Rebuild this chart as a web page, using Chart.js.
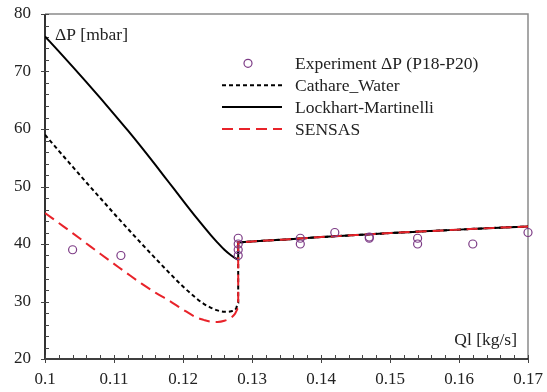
<!DOCTYPE html>
<html>
<head>
<meta charset="utf-8">
<script src="https://cdn.jsdelivr.net/npm/chart.js@4/dist/chart.umd.min.js"></script>
<style>
  html, body { margin: 0; padding: 0; background: #fff; }
  #wrap { width: 547px; height: 392px; }
</style>
</head>
<body>
<div id="wrap"><canvas id="c" width="547" height="392"></canvas></div>
<script>
// Axis ticks
const xTickValues = [0.10, 0.11, 0.12, 0.13, 0.14, 0.15, 0.16, 0.17];
const xTickLabels = ['0.1', '0.11', '0.12', '0.13', '0.14', '0.15', '0.16', '0.17'];
const yTickValues = [20, 30, 40, 50, 60, 70, 80];
const yTickLabels = ['20', '30', '40', '50', '60', '70', '80'];

// Measured pressure drop P18-P20
const expQl = [0.104, 0.111, 0.128, 0.128, 0.128, 0.128, 0.137, 0.137, 0.142, 0.147, 0.147, 0.154, 0.154, 0.162, 0.170];
const expDp = [39.0, 38.0, 41.0, 40.0, 39.0, 38.0, 41.0, 40.0, 42.0, 41.0, 41.2, 41.0, 40.0, 40.0, 42.0];

// Cathare_Water
const cathareQl = [0.100, 0.102, 0.104, 0.106, 0.108, 0.110, 0.112, 0.114, 0.116, 0.118, 0.120, 0.122, 0.123, 0.124, 0.125, 0.126, 0.127, 0.1277, 0.128,
                   0.128, 0.130, 0.135, 0.140, 0.145, 0.150, 0.155, 0.160, 0.165, 0.170];
const cathareDp = [59.0, 56.2, 53.45, 50.7, 48.0, 45.3, 42.65, 40.05, 37.5, 35.0, 32.6, 30.5, 29.6, 28.95, 28.45, 28.2, 28.3, 28.8, 29.8,
                   40.3, 40.45, 40.8, 41.2, 41.55, 41.9, 42.2, 42.5, 42.8, 43.05];

// Lockhart-Martinelli
const lockhartQl = [0.100, 0.102, 0.104, 0.106, 0.108, 0.110, 0.112, 0.114, 0.116, 0.118, 0.120, 0.122, 0.124, 0.125, 0.126, 0.127, 0.1275, 0.128,
                    0.128, 0.130, 0.135, 0.140, 0.145, 0.150, 0.155, 0.160, 0.165, 0.170];
const lockhartDp = [76.1, 73.5, 70.85, 68.15, 65.4, 62.6, 59.75, 56.8, 53.75, 50.65, 47.55, 44.5, 41.6, 40.25, 39.0, 38.0, 37.6, 37.3,
                    40.3, 40.45, 40.8, 41.2, 41.55, 41.9, 42.2, 42.5, 42.8, 43.05];

// SENSAS
const sensasQl = [0.100, 0.102, 0.104, 0.106, 0.108, 0.110, 0.112, 0.114, 0.116, 0.118, 0.120, 0.122, 0.123, 0.124, 0.125, 0.126, 0.127, 0.1275, 0.128,
                  0.128, 0.130, 0.135, 0.140, 0.145, 0.150, 0.155, 0.160, 0.165, 0.170];
const sensasDp = [45.4, 43.65, 41.9, 40.1, 38.3, 36.55, 34.8, 33.1, 31.55, 30.15, 28.6, 27.2, 26.8, 26.5, 26.45, 26.65, 27.2, 27.8, 28.8,
                  40.3, 40.45, 40.8, 41.2, 41.55, 41.9, 42.2, 42.5, 42.8, 43.05];

const toPoints = (xs, ys) => xs.map((v, i) => ({ x: v, y: ys[i] }));

const FONT = "'Liberation Serif', 'Times New Roman', serif";
const TEXT = '#222';

// Frame: black left/bottom axes, grey top/right borders, crossing major and inward minor ticks
const framePlugin = {
  id: 'frame',
  beforeDatasetsDraw(chart) {
    const { ctx, chartArea: a, scales: { x, y } } = chart;
    ctx.save();
    ctx.strokeStyle = '#8a8a8a';
    ctx.lineWidth = 1.5;
    ctx.beginPath();
    ctx.moveTo(a.left, a.top);
    ctx.lineTo(a.right, a.top);
    ctx.lineTo(a.right, a.bottom);
    ctx.stroke();

    ctx.strokeStyle = '#000';
    ctx.lineWidth = 1.6;
    ctx.beginPath();
    ctx.moveTo(a.left, a.top);
    ctx.lineTo(a.left, a.bottom);
    ctx.lineTo(a.right, a.bottom);
    ctx.stroke();

    ctx.lineWidth = 1;
    ctx.strokeStyle = '#444';
    ctx.beginPath();
    for (let v = 0.1; v <= 0.17 + 1e-9; v += 0.002) {
      const px = Math.round(x.getPixelForValue(v)) + 0.5;
      const major = Math.abs(Math.round(v * 100) - v * 100) < 1e-6;
      ctx.moveTo(px, a.bottom - 4);
      ctx.lineTo(px, a.bottom + (major ? 4 : 0));
    }
    for (let v = 20; v <= 80; v += 2) {
      const py = Math.round(y.getPixelForValue(v)) + 0.5;
      const major = v % 10 === 0;
      ctx.moveTo(a.left - (major ? 4 : 0), py);
      ctx.lineTo(a.left + 4, py);
    }
    ctx.stroke();
    ctx.restore();
  },
  afterDraw(chart) {
    const { ctx, chartArea: a } = chart;
    ctx.save();
    ctx.fillStyle = TEXT;
    ctx.font = '17.5px ' + FONT;
    ctx.textBaseline = 'alphabetic';
    ctx.textAlign = 'left';
    ctx.fillText('ΔP [mbar]', a.left + 10, 40);
    ctx.textAlign = 'right';
    ctx.fillText('Ql [kg/s]', a.right - 11, 345);

    // Legend
    const ds = chart.data.datasets;
    const legendOrder = [0, 1, 2, 3];
    const baseY = 69.3, step = 21.9, symL = 222, symR = 282, textX = 295;
    legendOrder.forEach((di, row) => {
      const d = ds[di];
      const by = baseY + row * step;
      const cy = by - 6;
      ctx.save();
      if (d.showLine === false) {
        ctx.strokeStyle = d.pointBorderColor;
        ctx.lineWidth = d.pointBorderWidth;
        ctx.beginPath();
        ctx.arc((symL + symR) / 2 - 4, cy, d.pointRadius, 0, Math.PI * 2);
        ctx.stroke();
      } else {
        ctx.strokeStyle = d.borderColor;
        ctx.lineWidth = d.borderWidth;
        ctx.setLineDash(d.borderDash || []);
        ctx.beginPath();
        ctx.moveTo(symL, cy);
        ctx.lineTo(symR, cy);
        ctx.stroke();
      }
      ctx.restore();
      ctx.fillStyle = TEXT;
      ctx.textAlign = 'left';
      ctx.fillText(d.label, textX, by);
    });
    ctx.restore();
  }
};

const lineBase = { showLine: true, pointRadius: 0, borderWidth: 2, cubicInterpolationMode: 'monotone' };

new Chart(document.getElementById('c'), {
  type: 'scatter',
  data: {
    datasets: [
      {
        label: 'Experiment ΔP (P18-P20)',
        data: toPoints(expQl, expDp),
        showLine: false,
        pointStyle: 'circle',
        pointRadius: 4,
        pointBorderWidth: 1.2,
        pointBorderColor: '#7d3c86',
        pointBackgroundColor: 'rgba(0,0,0,0)',
        clip: 8,
        order: 0
      },
      Object.assign({}, lineBase, {
        label: 'Cathare_Water',
        data: toPoints(cathareQl, cathareDp),
        borderColor: '#000',
        borderDash: [4, 3],
        order: 3
      }),
      Object.assign({}, lineBase, {
        label: 'Lockhart-Martinelli',
        data: toPoints(lockhartQl, lockhartDp),
        borderColor: '#000',
        order: 2
      }),
      Object.assign({}, lineBase, {
        label: 'SENSAS',
        data: toPoints(sensasQl, sensasDp),
        borderColor: '#e8232a',
        borderDash: [11, 6],
        order: 1
      })
    ]
  },
  options: {
    responsive: false,
    animation: false,
    devicePixelRatio: 1,
    layout: { padding: { top: 14, right: 19, bottom: 0, left: 0 } },
    plugins: { legend: { display: false }, tooltip: { enabled: false } },
    scales: {
      x: {
        type: 'linear',
        min: 0.1,
        max: 0.17,
        afterBuildTicks: s => { s.ticks = xTickValues.map(v => ({ value: v })); },
        afterFit: s => { s.height = 33; },
        grid: { display: false, drawTicks: true, tickLength: 10 },
        border: { display: false },
        ticks: {
          callback: (v, i) => xTickLabels[i],
          font: { family: FONT, size: 17 },
          color: TEXT,
          padding: 0,
          maxRotation: 0,
          autoSkip: false
        }
      },
      y: {
        type: 'linear',
        min: 20,
        max: 80,
        afterBuildTicks: s => { s.ticks = yTickValues.map(v => ({ value: v })); },
        afterFit: s => { s.width = 45; },
        grid: { display: false, drawTicks: true, tickLength: 14 },
        border: { display: false },
        ticks: {
          callback: (v, i) => yTickLabels[i],
          font: { family: FONT, size: 17 },
          color: TEXT,
          padding: 0,
          autoSkip: false
        }
      }
    }
  },
  plugins: [framePlugin]
});
</script>
</body>
</html>
